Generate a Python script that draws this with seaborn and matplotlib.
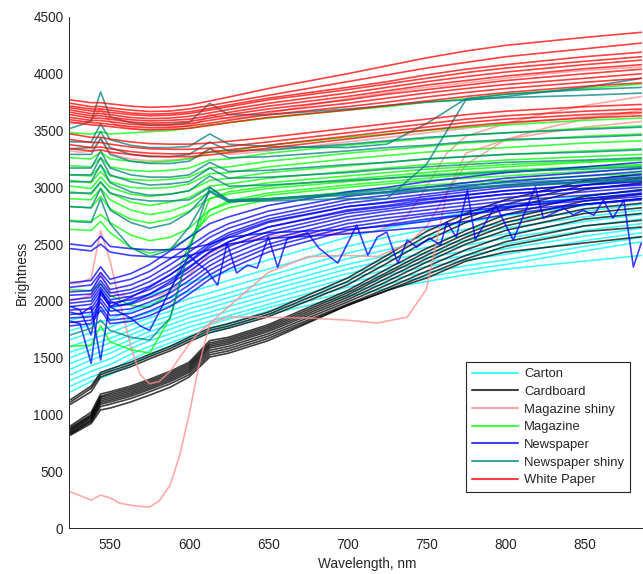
import matplotlib
matplotlib.use("Agg")
import matplotlib.pyplot as plt
from matplotlib.lines import Line2D
import pandas as pd
import seaborn as sns

# Reflectance spectra of paper samples, one curve per measured sample.
wavelength = [525, 538, 544, 550, 563, 575, 588, 600, 613, 625, 650, 700, 725, 750, 775, 800, 850, 886]

carton = [
    [1830, 1880, 1905, 1930, 1990, 2050, 2110, 2160, 2210, 2260, 2360, 2560, 2640, 2710, 2780, 2830, 2920, 2975],
    [1740, 1790, 1815, 1840, 1910, 1970, 2030, 2080, 2130, 2180, 2280, 2480, 2560, 2630, 2690, 2750, 2840, 2900],
    [1660, 1720, 1745, 1770, 1840, 1900, 1960, 2020, 2070, 2120, 2220, 2420, 2500, 2570, 2630, 2690, 2790, 2850],
    [1600, 1660, 1690, 1720, 1790, 1850, 1910, 1970, 2020, 2070, 2170, 2370, 2450, 2520, 2580, 2640, 2740, 2800],
    [1550, 1610, 1640, 1670, 1740, 1810, 1870, 1930, 1980, 2030, 2130, 2320, 2400, 2470, 2530, 2590, 2700, 2760],
    [1500, 1570, 1600, 1630, 1700, 1770, 1830, 1890, 1940, 1990, 2090, 2280, 2360, 2420, 2490, 2550, 2660, 2720],
    [1450, 1520, 1550, 1580, 1660, 1730, 1790, 1850, 1900, 1950, 2050, 2240, 2310, 2380, 2440, 2500, 2620, 2680],
    [1400, 1480, 1510, 1540, 1620, 1690, 1750, 1810, 1860, 1910, 2010, 2200, 2270, 2340, 2400, 2460, 2570, 2640],
    [1350, 1430, 1460, 1490, 1580, 1650, 1710, 1770, 1820, 1870, 1970, 2160, 2230, 2300, 2360, 2410, 2530, 2600],
    [1300, 1380, 1410, 1440, 1530, 1600, 1670, 1730, 1790, 1840, 1940, 2120, 2190, 2250, 2310, 2360, 2480, 2560],
    [1250, 1330, 1360, 1390, 1480, 1560, 1630, 1690, 1750, 1800, 1910, 2080, 2150, 2210, 2270, 2320, 2440, 2520],
    [1200, 1290, 1320, 1350, 1440, 1520, 1600, 1660, 1720, 1770, 1880, 2040, 2110, 2170, 2230, 2280, 2350, 2400],
]

cardboard = [
    [1130, 1250, 1370, 1400, 1460, 1530, 1600, 1680, 1760, 1800, 1900, 2200, 2400, 2610, 2770, 2890, 3060, 3120],
    [1110, 1230, 1350, 1380, 1440, 1510, 1580, 1660, 1740, 1780, 1880, 2170, 2370, 2570, 2730, 2850, 3020, 3080],
    [1090, 1200, 1330, 1360, 1420, 1490, 1560, 1640, 1720, 1760, 1860, 2140, 2330, 2530, 2690, 2810, 2980, 3040],
    [900, 1020, 1180, 1200, 1250, 1310, 1380, 1460, 1650, 1680, 1790, 2090, 2280, 2460, 2620, 2760, 2920, 2980],
    [885, 1000, 1160, 1185, 1235, 1295, 1365, 1445, 1630, 1665, 1775, 2070, 2250, 2430, 2590, 2720, 2880, 2940],
    [875, 990, 1150, 1170, 1220, 1280, 1350, 1430, 1615, 1650, 1760, 2050, 2230, 2400, 2560, 2690, 2850, 2900],
    [865, 980, 1135, 1155, 1205, 1265, 1335, 1415, 1600, 1635, 1745, 2030, 2200, 2370, 2530, 2660, 2810, 2860],
    [855, 970, 1120, 1140, 1190, 1250, 1320, 1400, 1585, 1620, 1730, 2010, 2170, 2340, 2500, 2620, 2770, 2820],
    [845, 955, 1105, 1125, 1175, 1235, 1305, 1385, 1565, 1600, 1710, 1990, 2140, 2300, 2450, 2570, 2720, 2770],
    [835, 945, 1090, 1110, 1160, 1220, 1290, 1370, 1545, 1580, 1690, 1970, 2110, 2260, 2400, 2520, 2660, 2710],
    [828, 935, 1070, 1090, 1140, 1200, 1270, 1350, 1525, 1560, 1670, 1960, 2090, 2230, 2370, 2480, 2610, 2650],
    [818, 920, 1040, 1056, 1110, 1170, 1240, 1330, 1505, 1540, 1650, 1960, 2090, 2200, 2350, 2430, 2510, 2565],
]

magazine = [
    [3480, 3470, 3490, 3470, 3480, 3490, 3500, 3520, 3550, 3570, 3610, 3680, 3710, 3750, 3780, 3820, 3870, 3910],
    [3260, 3250, 3310, 3250, 3230, 3220, 3230, 3250, 3310, 3320, 3370, 3440, 3470, 3500, 3530, 3550, 3590, 3610],
    [3190, 3180, 3260, 3180, 3150, 3140, 3150, 3170, 3240, 3250, 3300, 3370, 3400, 3430, 3460, 3480, 3520, 3540],
    [3110, 3100, 3190, 3100, 3070, 3060, 3070, 3090, 3170, 3180, 3230, 3300, 3330, 3360, 3390, 3410, 3450, 3470],
    [3060, 3040, 3140, 3050, 3000, 2990, 3000, 3030, 3120, 3130, 3180, 3250, 3280, 3310, 3330, 3350, 3390, 3410],
    [3010, 2990, 3090, 3000, 2940, 2920, 2940, 2970, 3060, 3080, 3130, 3190, 3220, 3250, 3270, 3290, 3320, 3340],
    [2960, 2940, 3040, 2950, 2870, 2840, 2870, 2910, 3010, 3030, 3080, 3140, 3170, 3200, 3220, 3240, 3270, 3290],
    [2900, 2890, 2990, 2890, 2800, 2760, 2790, 2850, 2960, 2990, 3040, 3100, 3130, 3160, 3180, 3200, 3230, 3250],
    [2830, 2820, 2920, 2810, 2720, 2685, 2720, 2790, 2900, 2940, 2990, 3050, 3080, 3110, 3130, 3150, 3180, 3200],
    [2710, 2700, 2760, 2690, 2580, 2530, 2560, 2640, 2800, 2860, 2930, 3000, 3030, 3060, 3080, 3100, 3140, 3160],
    [2630, 2620, 2700, 2600, 2470, 2420, 2460, 2560, 2750, 2820, 2890, 2960, 2990, 3020, 3040, 3060, 3100, 3120],
    [1600, 1610, 1780, 1640, 1570, 1540, 1850, 2450, 2900, 2960, 3010, 3070, 3100, 3130, 3160, 3180, 3220, 3240],
    [2100, 2090, 2150, 2050, 1960, 1945, 2080, 2500, 2800, 2880, 2950, 3020, 3050, 3080, 3110, 3130, 3170, 3190],
]

newspaper = [
    [2160, 2180, 2300, 2190, 2240, 2320, 2440, 2560, 2680, 2740, 2840, 2960, 3000, 3050, 3090, 3130, 3180, 3220],
    [2120, 2140, 2250, 2150, 2190, 2260, 2370, 2480, 2600, 2680, 2790, 2920, 2960, 3000, 3040, 3080, 3130, 3170],
    [2080, 2090, 2220, 2100, 2140, 2210, 2320, 2430, 2560, 2640, 2750, 2890, 2930, 2970, 3010, 3050, 3100, 3140],
    [2050, 2060, 2180, 2070, 2100, 2170, 2270, 2380, 2510, 2600, 2720, 2860, 2900, 2940, 2980, 3020, 3070, 3110],
    [2010, 2030, 2150, 2040, 2070, 2130, 2230, 2340, 2470, 2560, 2690, 2830, 2870, 2920, 2960, 3000, 3050, 3090],
    [1980, 2000, 2120, 2010, 2040, 2100, 2190, 2300, 2430, 2520, 2650, 2800, 2840, 2890, 2930, 2970, 3020, 3060],
    [1950, 1970, 2090, 1980, 2010, 2060, 2150, 2260, 2390, 2480, 2610, 2770, 2810, 2860, 2900, 2940, 2990, 3030],
    [1920, 1930, 2060, 1950, 1970, 2030, 2110, 2220, 2350, 2440, 2580, 2740, 2790, 2830, 2870, 2910, 2960, 3000],
    [1880, 1900, 2020, 1910, 1930, 1990, 2070, 2180, 2310, 2400, 2540, 2710, 2760, 2800, 2840, 2880, 2930, 2970],
    [1850, 1860, 1990, 1870, 1890, 1950, 2030, 2140, 2270, 2360, 2500, 2680, 2730, 2770, 2810, 2850, 2900, 2940],
    [1810, 1830, 1950, 1830, 1850, 1910, 1990, 2100, 2230, 2320, 2470, 2650, 2700, 2750, 2790, 2830, 2880, 2920],
    [1780, 1800, 1920, 1800, 1820, 1870, 1950, 2060, 2190, 2280, 2430, 2620, 2670, 2720, 2760, 2800, 2850, 2890],
    [2500, 2480, 2570, 2480, 2460, 2450, 2450, 2460, 2500, 2560, 2600, 2630, 2660, 2700, 2760, 2820, 2900, 2950],
    [2460, 2440, 2500, 2430, 2400, 2390, 2380, 2400, 2450, 2500, 2550, 2590, 2620, 2650, 2700, 2760, 2850, 2900],
]

newspaper_shiny = [
    [3520, 3580, 3840, 3620, 3570, 3550, 3555, 3570, 3740, 3640, 3640, 3690, 3720, 3750, 3770, 3790, 3810, 3830],
    [3340, 3350, 3490, 3350, 3290, 3270, 3270, 3290, 3400, 3320, 3330, 3380, 3410, 3440, 3460, 3480, 3510, 3530],
    [3290, 3290, 3430, 3290, 3230, 3210, 3210, 3230, 3340, 3260, 3270, 3320, 3350, 3370, 3400, 3420, 3440, 3460],
    [3170, 3170, 3320, 3170, 3110, 3090, 3090, 3110, 3220, 3140, 3150, 3200, 3220, 3250, 3270, 3290, 3310, 3330],
    [3110, 3110, 3260, 3110, 3050, 3020, 3030, 3050, 3170, 3080, 3090, 3130, 3160, 3180, 3200, 3220, 3240, 3260],
    [3050, 3050, 3200, 3040, 2960, 2930, 2940, 2970, 3100, 3010, 3020, 3060, 3080, 3100, 3120, 3140, 3160, 3180],
    [2950, 2950, 3050, 2950, 2900, 2880, 2880, 2890, 3000, 2880, 2880, 2900, 2900, 3200, 3770, 3800, 3880, 3960],
    [3400, 3400, 3560, 3420, 3370, 3350, 3350, 3360, 3470, 3380, 3360, 3350, 3380, 3560, 3780, 3820, 3860, 3880],
    [2830, 2820, 2990, 2800, 2690, 2640, 2680, 2780, 2970, 2880, 2900, 2940, 2960, 2980, 3000, 3020, 3050, 3070],
    [2700, 2690, 2900, 2680, 2470, 2390, 2450, 2650, 2960, 2870, 2890, 2930, 2950, 2970, 2990, 3010, 3040, 3060],
    [1700, 1760, 1830, 1740, 1680, 1655, 1850, 2450, 3000, 2890, 2900, 2950, 2980, 3000, 3020, 3040, 3070, 3090],
]

white_paper = [
    [3770, 3745, 3745, 3735, 3715, 3705, 3710, 3725, 3760, 3795, 3870, 4000, 4070, 4140, 4200, 4250, 4320, 4365],
    [3740, 3710, 3712, 3700, 3680, 3668, 3672, 3690, 3720, 3750, 3810, 3930, 3990, 4050, 4100, 4150, 4220, 4270],
    [3715, 3690, 3690, 3680, 3655, 3645, 3650, 3665, 3695, 3725, 3785, 3880, 3930, 3990, 4040, 4080, 4150, 4190],
    [3700, 3672, 3670, 3660, 3640, 3630, 3635, 3650, 3680, 3710, 3770, 3860, 3910, 3960, 4010, 4050, 4110, 4150],
    [3680, 3650, 3650, 3640, 3615, 3605, 3610, 3625, 3655, 3685, 3740, 3830, 3880, 3930, 3975, 4015, 4080, 4120],
    [3660, 3630, 3630, 3618, 3595, 3585, 3590, 3600, 3630, 3660, 3715, 3800, 3850, 3900, 3940, 3980, 4045, 4080],
    [3640, 3610, 3608, 3600, 3575, 3565, 3570, 3580, 3610, 3640, 3690, 3770, 3820, 3860, 3900, 3940, 4000, 4040],
    [3615, 3590, 3588, 3578, 3555, 3545, 3548, 3560, 3590, 3615, 3665, 3740, 3785, 3830, 3870, 3905, 3960, 4000],
    [3595, 3570, 3565, 3555, 3535, 3525, 3530, 3540, 3565, 3590, 3640, 3710, 3750, 3795, 3835, 3870, 3925, 3960],
    [3575, 3550, 3545, 3535, 3515, 3505, 3510, 3520, 3545, 3570, 3615, 3680, 3720, 3760, 3800, 3835, 3890, 3920],
    [3470, 3440, 3440, 3425, 3400, 3385, 3380, 3380, 3390, 3405, 3440, 3520, 3560, 3600, 3640, 3670, 3710, 3730],
    [3420, 3395, 3395, 3380, 3355, 3340, 3335, 3335, 3345, 3360, 3400, 3480, 3520, 3560, 3600, 3630, 3670, 3690],
    [3375, 3350, 3355, 3340, 3315, 3300, 3295, 3295, 3310, 3330, 3370, 3450, 3490, 3530, 3570, 3600, 3640, 3660],
    [3340, 3320, 3330, 3310, 3290, 3275, 3270, 3270, 3285, 3305, 3345, 3425, 3465, 3505, 3540, 3570, 3610, 3630],
]

# Glossy magazine pages change sharply, so they are sampled more finely.
shiny_wavelength = [525, 531, 538, 544, 550, 556, 563, 569, 575, 581, 588, 594, 600, 606,
                    613, 625, 650, 675, 700, 719, 738, 750, 763, 775, 800, 825, 850, 886]
magazine_shiny = [
    [317, 285, 246, 290, 265, 220, 200, 190, 185, 238, 378, 640, 1000, 1420,
     1800, 1860, 1855, 1850, 1830, 1805, 1857, 2100, 2950, 3300, 3420, 3480, 3530, 3580],
    [2150, 2160, 2200, 2620, 2350, 2000, 1600, 1350, 1270, 1290, 1380, 1500, 1620, 1720,
     1800, 1950, 2250, 2390, 2400, 2390, 2500, 2650, 2950, 3200, 3420, 3520, 3600, 3680],
    [2000, 2020, 2050, 2250, 2080, 2050, 2030, 2020, 2030, 2050, 2090, 2150, 2230, 2320,
     2420, 2500, 2570, 2590, 2600, 2610, 2750, 3000, 3300, 3450, 3560, 3650, 3720, 3800],
    [3560, 3570, 3590, 3690, 3580, 3540, 3520, 3510, 3510, 3515, 3520, 3530, 3545, 3570,
     3640, 3600, 3650, 3720, 3780, 3820, 3860, 3880, 3900, 3920, 3960, 4000, 4030, 4060],
    [3320, 3310, 3320, 3430, 3300, 3270, 3250, 3240, 3235, 3235, 3240, 3245, 3255, 3270,
     3340, 3290, 3320, 3360, 3400, 3430, 3460, 3480, 3500, 3520, 3560, 3590, 3620, 3650],
]

# Noisy newspaper scans, each with its own sampling.
noisy_wavelength = [525, 531, 538, 544, 550, 556, 563, 569, 575, 581, 588, 594, 600, 605, 611,
                    618, 624, 630, 637, 643, 650, 656, 662, 675, 682, 694, 706, 713, 719, 725,
                    732, 738, 744, 752, 759, 763, 769, 776, 781, 794, 805, 819, 824, 837, 843,
                    849, 856, 862, 868, 875, 881, 886]
newspaper_noisy = [1950, 1920, 1700, 2100, 1950, 1900, 1850, 1780, 1740, 1900, 2100, 2250, 2400, 2333, 2271,
                   2139, 2509, 2245, 2315, 2289, 2565, 2295, 2550, 2600, 2465, 2333, 2667, 2403, 2562, 2606,
                   2333, 2535, 2474, 2553, 2491, 2694, 2562, 2975, 2540, 2843, 2535, 3003, 2729, 2817, 2755,
                   2799, 2755, 2887, 2729, 2887, 2298, 2509]

dip_wavelength = [525, 531, 538, 544, 550, 556, 563, 575, 588, 600, 613, 625, 650, 700, 750, 800, 850, 886]
newspaper_dips = [
    [1820, 1800, 1450, 2080, 1950, 1990, 2030, 2120, 2230, 2350, 2490, 2580, 2700, 2830, 2900, 2970, 3020, 3050],
    [1900, 1880, 1950, 1480, 2000, 1960, 1980, 2060, 2170, 2290, 2430, 2520, 2650, 2790, 2870, 2940, 2990, 3020],
]

materials = ["Carton", "Cardboard", "Magazine shiny", "Magazine",
             "Newspaper", "Newspaper shiny", "White Paper"]
colors = {
    "Carton": "#00ffff",
    "Cardboard": "#000000",
    "Magazine shiny": "#ff8c8c",
    "Magazine": "#00ff00",
    "Newspaper": "#0000ff",
    "Newspaper shiny": "#008080",
    "White Paper": "#ff0000",
}

# build a long table: one row per (sample, wavelength)
records = []
counter = {}


def collect(material, xs, curves):
    for curve in curves:
        counter[material] = counter.get(material, 0) + 1
        sample = f"{material} #{counter[material]}"
        for x, y in zip(xs, curve):
            records.append({"material": material, "sample": sample,
                            "wavelength": x, "brightness": y})


collect("Carton", wavelength, carton)
collect("Cardboard", wavelength, cardboard)
collect("Magazine shiny", shiny_wavelength, magazine_shiny)
collect("Magazine", wavelength, magazine)
collect("Newspaper", wavelength, newspaper)
collect("Newspaper", noisy_wavelength, [newspaper_noisy])
collect("Newspaper", dip_wavelength, newspaper_dips)
collect("Newspaper shiny", wavelength, newspaper_shiny)
collect("White Paper", wavelength, white_paper)
df = pd.DataFrame(records)

sns.set_theme(style="white")
plt.rcParams["font.family"] = ["Liberation Sans", "DejaVu Sans"]

fig = plt.figure(figsize=(6.43, 5.74), dpi=100)
ax = fig.add_axes([69 / 643, 46 / 574, 596 / 643, 511 / 574])

sns.lineplot(data=df, x="wavelength", y="brightness", hue="material",
             hue_order=materials, palette=colors, units="sample",
             estimator=None, sort=False, linewidth=1.2, alpha=0.75,
             legend=False, ax=ax)

ax.set_xlim(524, 901)
ax.set_ylim(0, 4500)
ax.set_xticks([550, 600, 650, 700, 750, 800, 850])
ax.set_yticks(range(0, 4501, 500))
ax.set_xlabel("Wavelength, nm", fontsize=9.8, color="#262626", labelpad=4)
ax.set_ylabel("Brightness", fontsize=9.8, color="#262626", labelpad=3)
ax.tick_params(direction="in", length=5, width=0.7, colors="#262626",
               labelsize=9.8, pad=4)
ax.tick_params(axis="x", pad=7)
for side in ("top", "right"):
    ax.spines[side].set_visible(False)
for side in ("left", "bottom"):
    ax.spines[side].set_color("#262626")
    ax.spines[side].set_linewidth(0.7)

handles = [Line2D([0], [0], color=colors[m], lw=1.5, alpha=0.75) for m in materials]
leg = ax.legend(handles, materials, loc="lower right",
                bbox_to_anchor=(630 / 643, (574 - 492) / 574),
                bbox_transform=fig.transFigure, frameon=True, fancybox=False,
                framealpha=1, edgecolor="#262626", fontsize=9.4,
                handlelength=3.5, handletextpad=0.5, labelspacing=0.42,
                borderpad=0.45, borderaxespad=0)
leg.get_frame().set_linewidth(0.8)

fig.savefig("out.png", dpi=100)
